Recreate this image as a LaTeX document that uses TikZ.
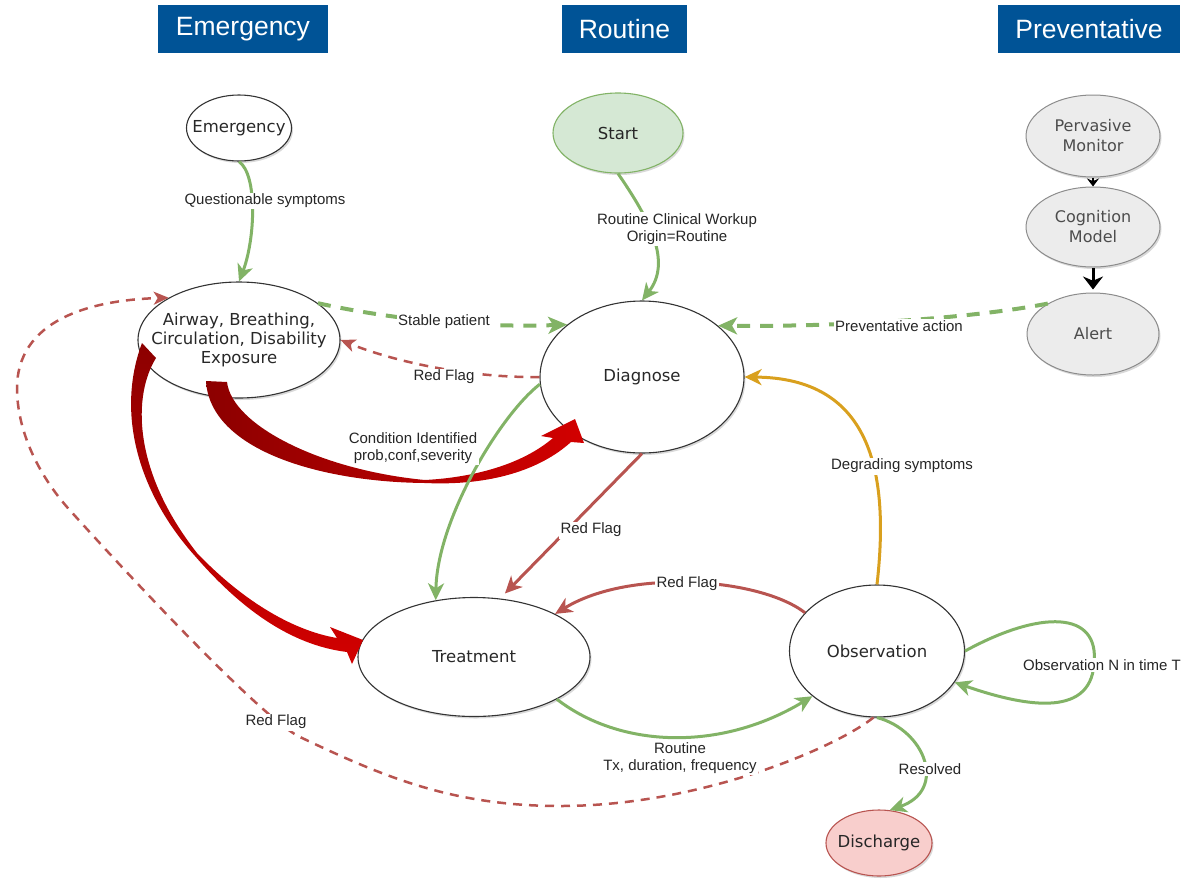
\documentclass[tikz,border=0pt]{standalone}
\usepackage{fontspec}
\setmainfont{Liberation Sans}
\newfontfamily\nodefont{DejaVu Sans}
\usetikzlibrary{arrows.meta,shapes.geometric,shadows}
\definecolor{hdrblue}{RGB}{0,83,150}
\definecolor{egreen}{RGB}{130,179,102}
\definecolor{ered}{RGB}{184,84,80}
\definecolor{eorange}{RGB}{217,160,30}
\definecolor{txtgray}{RGB}{40,40,40}
\definecolor{startfill}{RGB}{213,232,212}
\definecolor{discfill}{RGB}{248,206,204}
\definecolor{grayfill}{RGB}{236,236,236}
\definecolor{grayline}{RGB}{140,140,140}
\definecolor{darkred}{RGB}{140,0,0}
\definecolor{brightred}{RGB}{210,0,0}
\begin{document}
\begin{tikzpicture}[x=1pt,y=-1pt,
  hdr/.style={fill=hdrblue,text=white,font=\fontsize{26.5}{30}\selectfont,minimum height=48pt,inner sep=0pt},
  st/.style={ellipse,draw=black!80,line width=1.1pt,fill=white,inner xsep=-20pt,inner ysep=0pt,align=center,text=txtgray,
    font=\nodefont\fontsize{16.5}{19}\selectfont,drop shadow={shadow xshift=1.5pt,shadow yshift=-2pt,opacity=.3}},
  gst/.style={st,fill=grayfill,draw=grayline,line width=1pt,text=black!70,font=\nodefont\fontsize{16}{20}\selectfont},
  gline/.style={draw=egreen,line width=3pt,-{Stealth[length=17pt,width=16pt,inset=5pt]}},
  rline/.style={draw=ered,line width=3pt,-{Stealth[length=17pt,width=16pt,inset=5pt]}},
  oline/.style={draw=eorange,line width=3pt,-{Stealth[length=17pt,width=16pt,inset=5pt]}},
  gdash/.style={draw=egreen,line width=4pt,dash pattern=on 13pt off 10pt,-{Stealth[length=19pt,width=17pt,inset=5pt]}},
  rdash/.style={draw=ered,line width=2.5pt,dash pattern=on 9pt off 7pt,-{Stealth[length=15pt,width=13pt,inset=4pt]}},
  lbl/.style={fill=white,inner sep=1.5pt,text=black!85,font=\fontsize{15}{17.5}\selectfont,align=center}
]
\useasboundingbox (0,0) rectangle (1186,879);
% headers
\node[hdr,minimum width=170pt] (hE) at (243,29) {Emergency};
\node[hdr,minimum width=125pt] (hR) at (624.5,29) {Routine};
\node[hdr,minimum width=182pt] (hP) at (1089,29) {Preventative};
% nodes
\node[st,minimum width=105pt,minimum height=66pt] (emer) at (239,128) {Emergency};
\node[st,minimum width=202pt,minimum height=116pt] (abc) at (239,340) {Airway, Breathing,\\Circulation, Disability\\Exposure};
\node[st,fill=startfill,draw=egreen,text=black!85,minimum width=130pt,minimum height=80pt] (start) at (618,133) {Start};
\node[st,minimum width=204pt,minimum height=152pt] (diag) at (642,377) {Diagnose};
\node[st,minimum width=232pt,minimum height=119pt] (treat) at (474,657) {Treatment};
\node[st,minimum width=175pt,minimum height=132pt] (obs) at (877,651) {Observation};
\node[st,fill=discfill,draw=ered,text=black!85,minimum width=106pt,minimum height=66pt] (disc) at (879,843) {Discharge};
\node[gst,minimum width=134pt,minimum height=82pt] (perv) at (1093,136) {Pervasive\\Monitor};
\node[gst,minimum width=134pt,minimum height=80pt] (cog) at (1093,227) {Cognition\\Model};
\node[gst,minimum width=132pt,minimum height=82pt] (alert) at (1093,334) {Alert};
% thick red arrows
\shade[left color=darkred,right color=brightred] (206,381) -- (227,382) .. controls (232,425) and (320,470) .. (425,480) .. controls (480,477) and (525,462) .. (553,438) -- (541,436) -- (575,419) -- (584,443) -- (571,442) .. controls (540,470) and (490,486) .. (425,483) .. controls (320,482) and (210,450) .. (206,381) -- cycle;
\shade[top color=darkred,bottom color=brightred] (142,343) -- (156,358) .. controls (133,395) and (132,470) .. (197,553) .. controls (240,598) and (290,630) .. (337,638) -- (330,627) -- (363,640) -- (352,664) -- (347,652) .. controls (290,645) and (240,608) .. (195,556) .. controls (140,495) and (115,415) .. (142,343) -- cycle;
% connectors
\draw[gline] (emer.south) .. controls (258,175) and (255,240) .. (abc.north);
\draw[gline] (start.south) .. controls (650,220) and (672,262) .. (diag.north);
\draw[gdash] (abc.25) .. controls (385,318) and (470,328) .. (diag.145);
\draw[rdash] (diag.180) .. controls (470,378) and (395,362) .. (abc.0);
\draw[gdash] (alert.146) .. controls (985,316) and (860,327) .. (diag.34);
\draw[black,line width=1.2pt,-{Stealth[length=8pt,width=12pt]}] (perv.south) -- (cog.north);
\draw[black,line width=3pt,-{Stealth[length=13pt,width=20pt]},shorten >=3pt] (cog.south) -- (alert.north);
\draw[gline] (diag.184) .. controls (500,415) and (437,520) .. (treat.124);
\draw[rline,shorten >=7pt] (diag.south) -- (treat.66);
\draw[rline] (obs.152) .. controls (760,578) and (630,568) .. (treat.28);
\draw[gline] (treat.333) .. controls (620,748) and (720,752) .. (obs.215);
\draw[oline] (obs.north) .. controls (890,470) and (870,378) .. (diag.east);
\draw[gline] (obs.east) .. controls (1040,610) and (1100,610) .. (1094,664) .. controls (1090,720) and (1020,705) .. (obs.338);
\draw[gline] (obs.south) .. controls (925,730) and (948,790) .. (disc.72);
\draw[rdash] (obs.267) .. controls (835,748) and (700,806) .. (560,806) .. controls (450,806) and (380,775) .. (300,737) .. controls (260,718) and (110,555) .. (67,507) .. controls (46,483) and (18,440) .. (17,390) .. controls (16,320) and (90,300) .. (abc.149);
% labels
\node[lbl] (lq) at (265,201) {Questionable symptoms};
\node[lbl] (lr) at (677,229) {Routine Clinical Workup\\Origin=Routine};
\node[lbl] (ls) at (444,322) {Stable patient};
\node[lbl] (lrf1) at (444,377) {Red Flag};
\node[lbl] (lp) at (899,326) {Preventative action};
\node[lbl] (lc) at (413,448) {Condition Identified\\prob,conf,severity};
\node[lbl] (lrf2) at (591,530) {Red Flag};
\node[lbl] (lrf3) at (687,584) {Red Flag};
\node[lbl] (lt) at (680,758) {Routine\\Tx, duration, frequency};
\node[lbl] (ld) at (902,466) {Degrading symptoms};
\node[lbl] (lo) at (1102,665) {Observation N in time T};
\node[lbl] (lres) at (930,769) {Resolved};
\node[lbl] (lrf4) at (276,722) {Red Flag};
\end{tikzpicture}
\end{document}
